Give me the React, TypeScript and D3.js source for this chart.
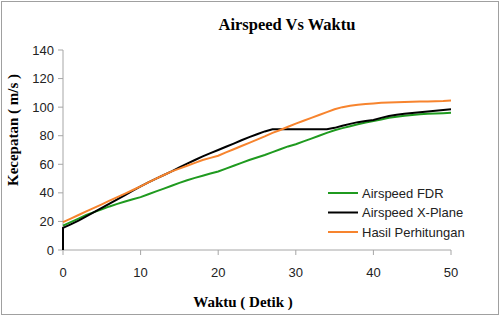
import React from 'react'
import * as d3 from 'd3'

// waktu (detik) and the three airspeed series
const waktu = d3.range(0, 51)

const airspeedFDR = [
  17, 19.5, 22, 24.5, 26.5, 28.5, 30.5, 32.3, 34, 35.5,
  37, 39, 41, 43, 45, 47, 48.8, 50.5, 52, 53.5,
  55, 57, 59, 61, 63, 64.8, 66.5, 68.5, 70.5, 72.5,
  74, 76, 78, 80, 82, 83.8, 85.3, 86.6, 88, 89.2,
  90.2, 91.4, 92.5, 93.2, 94, 94.5, 95, 95.3, 95.5, 95.8, 96
]

const xplaneAwal = 0
const airspeedXPlane = [
  15.5, 18, 20.5, 23.5, 26.5, 29.5, 32.5, 35.5, 38.5, 41.5,
  44.5, 47.3, 50, 52.5, 55, 57.8, 60.5, 63, 65.5, 67.8,
  70, 72.3, 74.5, 76.8, 79, 81, 83, 84.5, 84.5, 84.5,
  84.5, 84.5, 84.5, 84.5, 84.5, 85.5, 87, 88.3, 89.5, 90.3,
  91, 92.5, 93.8, 94.6, 95.3, 95.9, 96.5, 97, 97.5, 98, 98.5
]

const hasilPerhitungan = [
  19.5, 22, 24.5, 27, 29.5, 32, 34.5, 37, 39.5, 42,
  44.5, 47.3, 50, 52.5, 55, 57, 59, 61, 63, 64.5,
  66, 68.3, 70.5, 72.8, 75, 77.3, 79.5, 82, 84, 86.3,
  88.5, 90.5, 92.5, 94.5, 96.5, 98.5, 100, 101, 101.7, 102.2,
  102.6, 103, 103.2, 103.4, 103.6, 103.8, 104, 104, 104.2, 104.3, 104.6
]

const xTicks = [0, 10, 20, 30, 40, 50]
const yTicks = [0, 20, 40, 60, 80, 100, 120, 140]

const seriesNames = ['Airspeed FDR', 'Airspeed X-Plane', 'Hasil Perhitungan']
const seriesColors = ['#1f9a1f', '#000000', '#f7842e']

type Pt = { t: number; v: number }

const W = 502
const H = 317
const margin = { top: 50, right: 51, bottom: 67, left: 63 }

export default function App() {
  const x = d3.scaleLinear().domain([0, 50]).range([margin.left, W - margin.right])
  const y = d3.scaleLinear().domain([0, 140]).range([H - margin.bottom, margin.top])

  const line = d3
    .line<Pt>()
    .x(d => x(d.t))
    .y(d => y(d.v))

  const fdr: Pt[] = waktu.map((t, i) => ({ t, v: airspeedFDR[i] }))
  const xplane: Pt[] = [{ t: 0, v: xplaneAwal }].concat(
    waktu.map((t, i) => ({ t, v: airspeedXPlane[i] }))
  )
  const hitung: Pt[] = waktu.map((t, i) => ({ t, v: hasilPerhitungan[i] }))
  const allSeries = [fdr, xplane, hitung]

  const axisColor = '#a6a6a6'
  const tickFont = 'Liberation Sans, Arial, sans-serif'
  const serif = 'Liberation Serif, Times New Roman, serif'
  const x0 = x(0)
  const yBase = y(0)

  return (
    <svg
      width={W}
      height={H}
      style={{ position: 'absolute', left: 0, top: 0, background: '#fff' }}
    >
      <rect x={1.5} y={1.5} width={497} height={313} fill="#fff" stroke="#a0a0a0" />

      <text x={287} y={30} textAnchor="middle" fontFamily={serif} fontWeight="bold" fontSize={16.5}>
        Airspeed Vs Waktu
      </text>

      {/* y axis */}
      <line x1={x0} x2={x0} y1={y(140)} y2={yBase} stroke={axisColor} />
      {yTicks.map(t => (
        <g key={'y' + t}>
          <line x1={x0 - 5} x2={x0} y1={y(t)} y2={y(t)} stroke={axisColor} />
          <text
            x={x0 - 9}
            y={y(t)}
            dy="0.35em"
            textAnchor="end"
            fontFamily={tickFont}
            fontSize={13}
            fill="#222"
          >
            {t}
          </text>
        </g>
      ))}

      {/* x axis */}
      <line x1={x0} x2={x(50)} y1={yBase} y2={yBase} stroke={axisColor} />
      {xTicks.map(t => (
        <g key={'x' + t}>
          <line x1={x(t)} x2={x(t)} y1={yBase} y2={yBase + 5} stroke={axisColor} />
          <text x={x(t)} y={yBase + 27} textAnchor="middle" fontFamily={tickFont} fontSize={13} fill="#222">
            {t}
          </text>
        </g>
      ))}

      {allSeries.map((s, i) => (
        <path key={seriesNames[i]} d={line(s) || ''} fill="none" stroke={seriesColors[i]} strokeWidth={2} />
      ))}

      {/* legend */}
      {seriesNames.map((n, i) => (
        <g key={'lg' + n} transform={`translate(328, ${193 + i * 19.5})`}>
          <line x1={0} x2={30} y1={0} y2={0} stroke={seriesColors[i]} strokeWidth={2} />
          <text x={34} y={0} dy="0.35em" fontFamily={tickFont} fontSize={13} fill="#222">
            {n}
          </text>
        </g>
      ))}

      <text
        transform="translate(18, 130) rotate(-90)"
        textAnchor="middle"
        fontFamily={serif}
        fontWeight="bold"
        fontSize={15}
      >
        Kecepatan ( m/s )
      </text>
      <text x={243} y={307} textAnchor="middle" fontFamily={serif} fontWeight="bold" fontSize={15}>
        Waktu ( Detik )
      </text>
    </svg>
  )
}
